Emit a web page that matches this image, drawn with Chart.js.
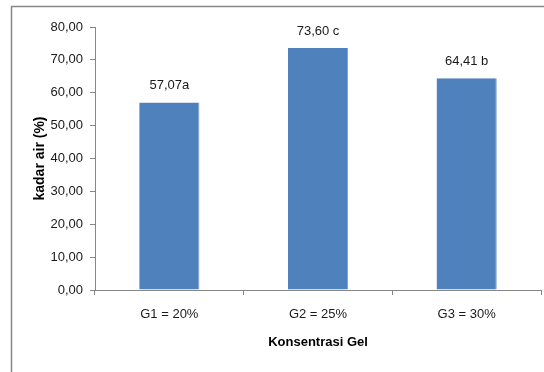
<!DOCTYPE html>
<html>
<head>
<meta charset="utf-8">
<style>
html,body{margin:0;padding:0;background:#fff;}
#wrap{width:544px;height:372px;position:relative;}
</style>
<script src="https://cdn.jsdelivr.net/npm/chart.js@4/dist/chart.umd.min.js"></script>
</head>
<body>
<div id="wrap"><canvas id="c" width="544" height="372"></canvas></div>
<script>
const categories = ['G1 = 20%', 'G2 = 25%', 'G3 = 30%'];
const kadarAir = [57.07, 73.60, 64.41];
const significance = ['a', ' c', ' b'];
const yTicks = [0, 10, 20, 30, 40, 50, 60, 70, 80];

const fontFamily = '"Liberation Sans", Arial, sans-serif';
const fmt = v => v.toFixed(2).replace('.', ',');

const frame = {
  id: 'frame',
  beforeDraw(chart) {
    const ctx = chart.ctx;
    ctx.save();
    ctx.strokeStyle = '#888888';
    ctx.lineWidth = 1.5;
    ctx.beginPath();
    ctx.moveTo(11.5, 372);
    ctx.lineTo(11.5, 6.5);
    ctx.lineTo(544, 6.5);
    ctx.stroke();
    ctx.restore();
  }
};

const barLabels = {
  id: 'barLabels',
  afterDatasetsDraw(chart) {
    const ctx = chart.ctx;
    const meta = chart.getDatasetMeta(0);
    ctx.save();
    ctx.font = '13px ' + fontFamily;
    ctx.fillStyle = '#1a1a1a';
    ctx.textAlign = 'center';
    ctx.textBaseline = 'middle';
    meta.data.forEach((bar, i) => {
      const v = chart.data.datasets[0].data[i];
      ctx.fillText(fmt(v) + significance[i], bar.x, bar.y - 17);
    });
    ctx.restore();
  }
};

new Chart(document.getElementById('c'), {
  type: 'bar',
  data: {
    labels: categories,
    datasets: [{
      data: kadarAir,
      backgroundColor: '#4F81BD',
      borderColor: '#7A9FD0',
      borderWidth: {right: 1, left: 0, top: 0, bottom: 0},
      categoryPercentage: 1,
      barPercentage: 0.405
    }]
  },
  options: {
    responsive: false,
    animation: false,
    devicePixelRatio: 1,
    layout: {padding: {left: 0, top: 27, right: 3, bottom: 0}},
    plugins: {legend: {display: false}, tooltip: {enabled: false}},
    scales: {
      y: {
        min: 0, max: 80,
        afterFit(scale) { scale.width = 95; },
        afterBuildTicks(scale) { scale.ticks = yTicks.map(v => ({value: v})); },
        ticks: {
          callback: v => fmt(v),
          font: {family: fontFamily, size: 13},
          color: '#1a1a1a',
          padding: 7
        },
        grid: {drawOnChartArea: false, drawTicks: true, tickLength: 5, color: '#868686'},
        border: {color: '#868686', width: 1},
        title: {
          display: true,
          text: 'kadar air (%)',
          font: {family: fontFamily, size: 14, weight: 'bold'},
          color: '#000',
          padding: {top: 32, bottom: 0}
        }
      },
      x: {
        afterFit(scale) { scale.height = 82; },
        ticks: {
          font: {family: fontFamily, size: 13},
          color: '#1a1a1a',
          padding: 12
        },
        grid: {drawOnChartArea: false, drawTicks: true, tickLength: 5, color: '#868686', offset: true},
        border: {color: '#868686', width: 1},
        title: {
          display: true,
          text: 'Konsentrasi Gel',
          font: {family: fontFamily, size: 13, weight: 'bold'},
          color: '#000',
          padding: {top: 0, bottom: 22}
        }
      }
    }
  },
  plugins: [frame, barLabels]
});
</script>
</body>
</html>
